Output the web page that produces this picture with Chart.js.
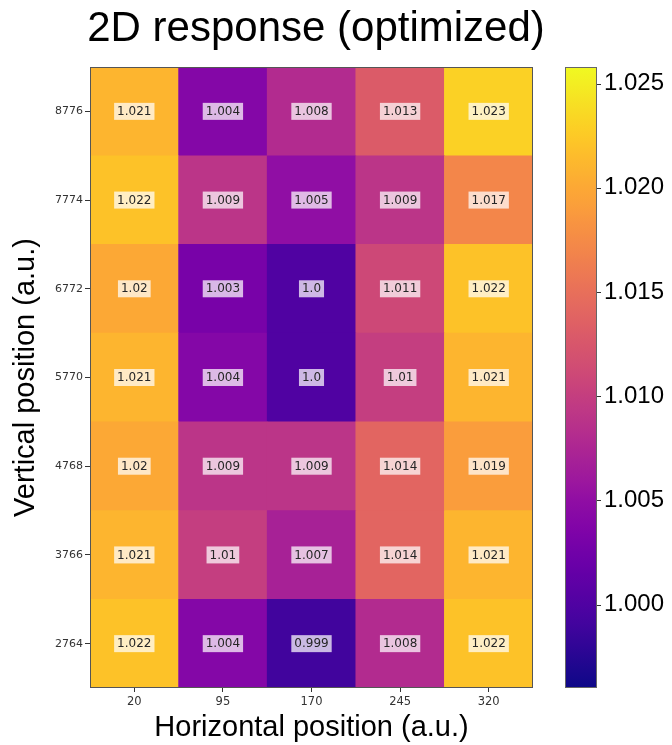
<!DOCTYPE html>
<html>
<head>
<meta charset="utf-8">
<script src="https://cdn.jsdelivr.net/npm/chart.js@4.4.1/dist/chart.umd.min.js"></script>
<style>
  html, body { margin: 0; padding: 0; background: #ffffff; }
  #c { display: block; }
</style>
</head>
<body>
<canvas id="c" width="672" height="745"></canvas>
<script>
// Grid coordinates
const xLabels = ['20', '95', '170', '245', '320'];
const yLabels = ['2764', '3766', '4768', '5770', '6772', '7774', '8776'];

// Response per row (left to right along the horizontal positions)
const row2764 = [1.022, 1.004, 0.999, 1.008, 1.022];
const row3766 = [1.021, 1.01, 1.007, 1.014, 1.021];
const row4768 = [1.02, 1.009, 1.009, 1.014, 1.019];
const row5770 = [1.021, 1.004, 1.0, 1.01, 1.021];
const row6772 = [1.02, 1.003, 1.0, 1.011, 1.022];
const row7774 = [1.022, 1.009, 1.005, 1.009, 1.017];
const row8776 = [1.021, 1.004, 1.008, 1.013, 1.023];

// Colour scale limits and colorbar ticks
const colorMin = 0.996;
const colorMax = 1.0258;
const colorbarTicks = [1.000, 1.005, 1.010, 1.015, 1.020, 1.025];

const titleText = '2D response (optimized)';

// rows bottom to top, matching yLabels
const rows = [row2764, row3766, row4768, row5770, row6772, row7774, row8776];

// plasma colormap samples
const plasmaStops = [
  [0.000, '#0d0887'], [0.100, '#41049d'], [0.111, '#46039f'], [0.125, '#4c02a1'],
  [0.200, '#6a00a8'], [0.222, '#7201a8'], [0.250, '#7e03a8'], [0.300, '#8f0da4'],
  [0.333, '#9c179e'], [0.375, '#a92395'], [0.400, '#b12a90'], [0.444, '#bd3786'],
  [0.500, '#cc4778'], [0.556, '#d8576b'], [0.600, '#e16462'], [0.625, '#e56b5d'],
  [0.667, '#ed7953'], [0.700, '#f2844b'], [0.750, '#f89441'], [0.778, '#fb9f3a'],
  [0.800, '#fca636'], [0.875, '#fdc328'], [0.889, '#fdca26'], [0.900, '#fcce25'],
  [1.000, '#f0f921']
];

function hexToRgb(h) {
  return [parseInt(h.slice(1, 3), 16), parseInt(h.slice(3, 5), 16), parseInt(h.slice(5, 7), 16)];
}

function plasma(t) {
  t = Math.max(0, Math.min(1, t));
  for (let i = 1; i < plasmaStops.length; i++) {
    const [t1, c1] = plasmaStops[i];
    if (t <= t1) {
      const [t0, c0] = plasmaStops[i - 1];
      const f = (t - t0) / (t1 - t0);
      const a = hexToRgb(c0), b = hexToRgb(c1);
      const rgb = a.map((v, k) => Math.round(v + (b[k] - v) * f));
      return 'rgb(' + rgb.join(',') + ')';
    }
  }
  return plasmaStops[plasmaStops.length - 1][1];
}

function colorFor(v) {
  return plasma((v - colorMin) / (colorMax - colorMin));
}

function formatValue(v) {
  const s = String(Math.round(v * 1000) / 1000);
  return s.indexOf('.') >= 0 ? s : s + '.0';
}

const datasets = rows.map((vals, r) => ({
  label: yLabels[r],
  data: vals.map(() => 1),
  values: vals,
  backgroundColor: vals.map(colorFor),
  borderWidth: 0,
  barPercentage: 1,
  categoryPercentage: 1,
  stack: 'grid'
}));

const axisColor = '#333333';

// Heading centred over the figure
const heading = {
  id: 'heading',
  afterDraw(chart) {
    const ctx = chart.ctx;
    ctx.save();
    ctx.font = '42px "Liberation Sans"';
    ctx.fillStyle = '#000000';
    ctx.textAlign = 'center';
    ctx.textBaseline = 'alphabetic';
    ctx.fillText(titleText, 316, 41);
    ctx.restore();
  }
};

// Value labels on each cell
const cellLabels = {
  id: 'cellLabels',
  afterDatasetsDraw(chart) {
    const ctx = chart.ctx;
    ctx.save();
    ctx.font = '12px "DejaVu Sans"';
    ctx.textAlign = 'center';
    ctx.textBaseline = 'middle';
    chart.data.datasets.forEach((ds, i) => {
      const meta = chart.getDatasetMeta(i);
      meta.data.forEach((bar, j) => {
        const text = formatValue(ds.values[j]);
        const cx = bar.x;
        const cy = (bar.y + bar.base) / 2;
        const w = ctx.measureText(text).width + 6;
        const h = 17;
        ctx.fillStyle = 'rgba(255,255,255,0.72)';
        ctx.fillRect(cx - w / 2, cy - h / 2, w, h);
        ctx.fillStyle = '#262626';
        ctx.fillText(text, cx, cy + 0.5);
      });
    });
    ctx.restore();
  }
};

// Plot frame and colorbar strip
const frameAndColorbar = {
  id: 'frameAndColorbar',
  afterDraw(chart) {
    const ctx = chart.ctx;
    const a = chart.chartArea;
    const cb = chart.scales.cb;
    ctx.save();
    ctx.strokeStyle = '#555555';
    ctx.lineWidth = 1;
    ctx.strokeRect(Math.round(a.left) + 0.5, Math.round(a.top) + 0.5,
                   Math.round(a.right - a.left) - 1, Math.round(a.bottom - a.top) - 1);

    const x0 = a.right + 32;
    const w = 32;
    const yTop = cb.getPixelForValue(colorMax);
    const yBot = cb.getPixelForValue(colorMin);
    const grad = ctx.createLinearGradient(0, yBot, 0, yTop);
    for (let k = 0; k <= 60; k++) {
      const t = k / 60;
      grad.addColorStop(t, plasma(t));
    }
    ctx.fillStyle = grad;
    ctx.fillRect(x0, yTop, w, yBot - yTop);
    ctx.strokeStyle = '#666666';
    ctx.strokeRect(Math.round(x0) + 0.5, Math.round(yTop) + 0.5, w - 1, Math.round(yBot - yTop) - 1);

    ctx.strokeStyle = '#333333';
    colorbarTicks.forEach(v => {
      const y = Math.round(cb.getPixelForValue(v)) + 0.5;
      ctx.beginPath();
      ctx.moveTo(x0 + w, y);
      ctx.lineTo(x0 + w + 4, y);
      ctx.stroke();
    });
    ctx.restore();
  }
};

new Chart(document.getElementById('c'), {
  type: 'bar',
  data: { labels: xLabels, datasets },
  options: {
    responsive: false,
    animation: false,
    devicePixelRatio: 1,
    layout: { padding: { left: 9, right: 0, top: 67, bottom: 0 } },
    plugins: {
      legend: { display: false },
      tooltip: { enabled: false },
      title: { display: false }
    },
    scales: {
      x: {
        type: 'category',
        offset: true,
        grid: { display: true, drawOnChartArea: false, drawTicks: true, tickLength: 4, color: axisColor, offset: false },
        border: { display: false },
        ticks: { color: axisColor, font: { family: '"DejaVu Sans"', size: 11.5 }, padding: 3, maxRotation: 0, autoSkip: false },
        title: {
          display: true,
          text: 'Horizontal position (a.u.)',
          color: '#000000',
          font: { family: '"Liberation Sans"', size: 29 },
          padding: { top: 0, bottom: 0 }
        },
        afterFit(s) { s.height = 57; }
      },
      y: {
        type: 'linear',
        stacked: true,
        min: 0,
        max: yLabels.length,
        afterBuildTicks(s) { s.ticks = yLabels.map((_, i) => ({ value: i + 0.5 })); },
        grid: { display: true, drawOnChartArea: false, drawTicks: true, tickLength: 5, color: axisColor },
        border: { display: false },
        ticks: {
          color: axisColor,
          font: { family: '"DejaVu Sans"', size: 11 },
          padding: 2,
          autoSkip: false,
          callback: (v) => yLabels[Math.floor(v)]
        },
        title: {
          display: true,
          text: 'Vertical position (a.u.)',
          color: '#000000',
          font: { family: '"Liberation Sans"', size: 29 },
          padding: { top: 0, bottom: 0 }
        },
        afterFit(s) { s.width = 81; }
      },
      cb: {
        type: 'linear',
        position: 'right',
        min: colorMin,
        max: colorMax,
        afterBuildTicks(s) { s.ticks = colorbarTicks.map(v => ({ value: v })); },
        // invisible tick marks reserve the gap and strip width before the labels
        grid: { display: true, drawOnChartArea: false, drawTicks: true, tickLength: 71, color: 'rgba(0,0,0,0)' },
        border: { display: false },
        ticks: {
          color: '#000000',
          font: { family: '"Liberation Sans"', size: 24 },
          padding: 0,
          autoSkip: false,
          callback: (v) => Number(v).toFixed(3)
        },
        afterFit(s) { s.width = 139; }
      }
    }
  },
  plugins: [cellLabels, frameAndColorbar, heading]
});
</script>
</body>
</html>
